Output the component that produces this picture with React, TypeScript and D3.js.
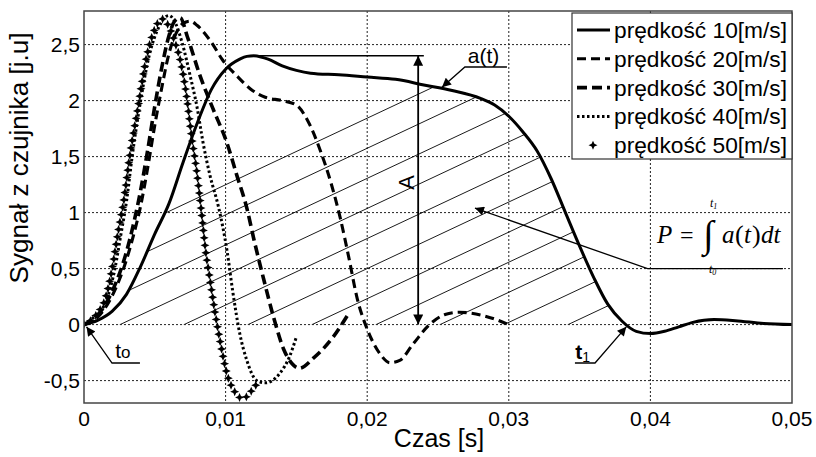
import React, { useEffect, useRef, useState } from "react";
import * as d3 from "d3";

type P = [number, number];

// time [s], signal [j.u]
const speed10: P[] = [
  [0, 0], [0.001, 0.04], [0.002, 0.12], [0.003, 0.27], [0.004, 0.52], [0.005, 0.81], [0.006, 1.08],
  [0.007, 1.45], [0.008, 1.8], [0.009, 2.1], [0.01, 2.28], [0.011, 2.37], [0.0115, 2.395], [0.012, 2.4],
  [0.0125, 2.39], [0.013, 2.37], [0.014, 2.31], [0.015, 2.27], [0.016, 2.245], [0.018, 2.23], [0.02, 2.21],
  [0.022, 2.19], [0.024, 2.14], [0.026, 2.09], [0.028, 2.02], [0.029, 1.96], [0.03, 1.86], [0.031, 1.72],
  [0.032, 1.55], [0.033, 1.3], [0.034, 1.0], [0.035, 0.7], [0.036, 0.42], [0.037, 0.18], [0.038, 0.03],
  [0.039, -0.06], [0.04, -0.08], [0.041, -0.06], [0.042, -0.02], [0.043, 0.02], [0.0445, 0.045],
  [0.046, 0.035], [0.048, 0.01], [0.05, 0],
];
const speed20: P[] = [
  [0, 0], [0.001, 0.07], [0.002, 0.26], [0.003, 0.58], [0.0035, 0.8], [0.004, 1.06], [0.0045, 1.4],
  [0.005, 1.78], [0.0055, 2.12], [0.006, 2.42], [0.0065, 2.6], [0.007, 2.69], [0.0075, 2.71],
  [0.008, 2.67], [0.009, 2.52], [0.0098, 2.36], [0.0108, 2.22], [0.0118, 2.1], [0.0128, 2.03],
  [0.014, 2.0], [0.015, 1.96], [0.0158, 1.82], [0.0167, 1.55], [0.0175, 1.24], [0.0181, 0.95],
  [0.0187, 0.6], [0.0193, 0.23], [0.02, -0.04], [0.0209, -0.26], [0.0216, -0.34], [0.0223, -0.32],
  [0.0232, -0.18], [0.0244, 0.0], [0.0255, 0.09], [0.0265, 0.11], [0.0282, 0.08], [0.03, 0],
];
const speed30: P[] = [
  [0, 0], [0.001, 0.09], [0.002, 0.3], [0.003, 0.65], [0.0035, 0.9], [0.004, 1.2], [0.0045, 1.56],
  [0.005, 1.95], [0.0055, 2.3], [0.006, 2.58], [0.0064, 2.71], [0.0068, 2.74], [0.0073, 2.57],
  [0.0082, 2.22], [0.0091, 1.93], [0.0101, 1.62], [0.0108, 1.33], [0.0115, 1.04], [0.012, 0.76],
  [0.0127, 0.4], [0.0134, 0.06], [0.0141, -0.22], [0.0147, -0.35], [0.0152, -0.39], [0.0162, -0.3],
  [0.0176, -0.11], [0.0186, 0.08],
];
const speed40: P[] = [
  [0, 0], [0.0008, 0.08], [0.0016, 0.22], [0.0022, 0.51], [0.0026, 0.8], [0.003, 1.1], [0.0034, 1.5],
  [0.004, 2.0], [0.0046, 2.4], [0.0053, 2.66], [0.006, 2.76], [0.0065, 2.68], [0.0069, 2.53], [0.0075, 2.22],
  [0.008, 1.93], [0.0084, 1.63], [0.0089, 1.33], [0.0095, 1.05], [0.0101, 0.66], [0.0105, 0.3],
  [0.011, -0.08], [0.0115, -0.32], [0.0122, -0.5], [0.0128, -0.52], [0.0138, -0.44], [0.0145, -0.29],
  [0.015, -0.11],
];
const speed50: P[] = [
  [0, 0], [0.0005, 0.04], [0.001, 0.11], [0.0015, 0.23], [0.002, 0.51], [0.0024, 0.82], [0.0028, 1.1],
  [0.0032, 1.48], [0.0038, 1.93], [0.0044, 2.38], [0.005, 2.64], [0.0055, 2.73], [0.006, 2.66],
  [0.0064, 2.53], [0.0068, 2.36], [0.0072, 2.08], [0.0076, 1.68], [0.008, 1.33], [0.0083, 1.0],
  [0.0086, 0.65], [0.0089, 0.4], [0.0092, 0.15], [0.0096, -0.14], [0.0101, -0.44], [0.0107, -0.61],
  [0.0112, -0.66], [0.0116, -0.63], [0.012, -0.56], [0.0123, -0.52],
];

const legendLabels = [
  "prędkość 10[m/s]",
  "prędkość 20[m/s]",
  "prędkość 30[m/s]",
  "prędkość 40[m/s]",
  "prędkość 50[m/s]",
];
const xTicks = [0, 0.01, 0.02, 0.03, 0.04, 0.05];
const yTicks = [-0.5, 0, 0.5, 1, 1.5, 2, 2.5];
const xTitle = "Czas [s]";
const yTitle = "Sygnał z czujnika [j.u]";

// annotation anchors (data units)
const tStart = 0;
const tEnd = 0.0383;
const amplitude = 2.4;
const ampT = 0.0236;

const fmt = (v: number) => String(v).replace(".", ",");
const SANS = "'Liberation Sans', Arial, sans-serif";
const SERIF = "'Liberation Serif', 'Times New Roman', serif";

const styles = [
  { dash: "none", w: 3 },
  { dash: "9 5", w: 3.1 },
  { dash: "10 5", w: 3.6 },
  { dash: "2.5 2.5", w: 3 },
];

const STAR = "M0,-4.5L1.4,-1.4L4.5,0L1.4,1.4L0,4.5L-1.4,1.4L-4.5,0L-1.4,-1.4Z";

export default function App() {
  const x = d3.scaleLinear().domain([0, 0.05]).range([84, 792]);
  const y = d3.scaleLinear().domain([-0.7, 2.8]).range([403, 11]);
  const line = d3
    .line<P>()
    .x((d) => x(d[0]))
    .y((d) => y(d[1]))
    .curve(d3.curveMonotoneX);
  const area = d3
    .area<P>()
    .x((d) => x(d[0]))
    .y0(y(0))
    .y1((d) => y(d[1]))
    .curve(d3.curveMonotoneX);

  const starRef = useRef<SVGPathElement>(null);
  const [stars, setStars] = useState<P[]>([]);
  useEffect(() => {
    const p = starRef.current;
    if (!p) return;
    const L = p.getTotalLength();
    const pts: P[] = [];
    for (let s = 0; s <= L; s += 7.5) {
      const q = p.getPointAtLength(s);
      pts.push([q.x, q.y]);
    }
    setStars(pts);
  }, []);

  const lines = [speed10, speed20, speed30, speed40];
  const [x0, x1] = x.range();
  const [yb, yt] = y.range();

  const slope = 0.47;
  const hatch = d3.range(-3, 14).map((k) => {
    const bx = x(0) + 36 + 64 * k;
    return { x1: bx - 150, y1: y(0) + slope * 150, x2: bx + 600, y2: y(0) - slope * 600 };
  });

  const legX = 572, legY = 13, legW = 220, legH = 146;
  const rowY = (i: number) => legY + 17 + i * 28.8;

  return (
    <div>
      <style>{`body{margin:0;background:#fff}`}</style>
      <svg width={816} height={457} style={{ display: "block", background: "#fff" }}>
        <defs>
          <marker id="arr" viewBox="0 0 10 10" refX="10" refY="5" markerWidth="14" markerHeight="9"
            markerUnits="userSpaceOnUse" orient="auto-start-reverse">
            <path d="M0,0L10,5L0,10Z" fill="#000" />
          </marker>
          <marker id="arrBig" viewBox="0 0 10 10" refX="10" refY="5" markerWidth="24" markerHeight="10"
            markerUnits="userSpaceOnUse" orient="auto-start-reverse">
            <path d="M0,0L10,5L0,10Z" fill="#000" />
          </marker>
          <clipPath id="hRect">
            <rect x={x(tStart)} y={yt} width={x(tEnd) - x(tStart)} height={y(0) - yt} />
          </clipPath>
          <clipPath id="hArea">
            <path d={area(speed10) || ""} />
          </clipPath>
          <clipPath id="plot">
            <rect x={x0} y={yt} width={x1 - x0} height={yb - yt} />
          </clipPath>
        </defs>

        {/* grid */}
        <g stroke="#222" strokeWidth={1} strokeDasharray="2 2">
          {xTicks.slice(1, -1).map((t) => (
            <line key={"gx" + t} x1={x(t)} x2={x(t)} y1={yt} y2={yb} />
          ))}
          {yTicks.map((v) => (
            <line key={"gy" + v} x1={x0} x2={x1} y1={y(v)} y2={y(v)} />
          ))}
        </g>

        {/* hatching */}
        <g clipPath="url(#hRect)">
          <g clipPath="url(#hArea)">
            {hatch.map((h, i) => (
              <line key={i} {...h} stroke="#000" strokeWidth={0.9} />
            ))}
          </g>
        </g>

        {/* curves */}
        <g clipPath="url(#plot)" fill="none" stroke="#000">
          {lines.map((s, i) => (
            <path key={i} d={line(s) || ""} strokeWidth={styles[i].w}
              strokeDasharray={styles[i].dash} strokeLinejoin="round" />
          ))}
          <path ref={starRef} d={line(speed50) || ""} stroke="none" />
          {stars.map((p, i) => (
            <path key={"s" + i} d={STAR} transform={`translate(${p[0]},${p[1]})`} fill="#000" stroke="none" />
          ))}
        </g>

        {/* amplitude A */}
        <line x1={x(0.0115)} x2={x(0.024)} y1={y(amplitude)} y2={y(amplitude)} stroke="#000" strokeWidth={1.5} />
        <line x1={x(ampT)} x2={x(ampT)} y1={y(amplitude)} y2={y(0)} stroke="#000" strokeWidth={1.8}
          markerStart="url(#arrBig)" markerEnd="url(#arrBig)" />
        <text transform={`translate(${x(ampT) - 4},${y(1.27)}) rotate(-90)`} textAnchor="middle"
          fontFamily={SANS} fontSize={22}>A</text>

        {/* a(t) */}
        <polyline points={`${x(0.02987)},${y(2.3)} ${x(0.0269)},${y(2.3)} ${x(0.02528)},${y(2.12)}`}
          fill="none" stroke="#000" strokeWidth={1.3} markerEnd="url(#arr)" />
        <text x={x(0.0271)} y={y(2.34)} fontFamily={SANS} fontSize={21}>a(t)</text>

        {/* P formula */}
        <polyline points={`${x(0.04936)},${y(0.5)} ${x(0.0398)},${y(0.5)} ${x(0.02761)},${y(1.04)}`}
          fill="none" stroke="#000" strokeWidth={1.3} markerEnd="url(#arr)" />
        <g fontFamily={SERIF} fill="#000">
          <text x={657} y={243} fontSize={25} fontStyle="italic">P</text>
          <text x={680} y={243} fontSize={24}>=</text>
          <text x={703} y={247} fontSize={38}>∫</text>
          <text x={722} y={243} fontSize={25} fontStyle="italic">a</text>
          <text x={735} y={243} fontSize={26}>(</text>
          <text x={744} y={243} fontSize={25} fontStyle="italic">t</text>
          <text x={752} y={243} fontSize={26}>)</text>
          <text x={761} y={243} fontSize={25} fontStyle="italic">dt</text>
          <text x={710} y={207} fontSize={12} fontStyle="italic">t<tspan fontSize={8} dy={2}>1</tspan></text>
          <text x={709} y={273} fontSize={12} fontStyle="italic">t<tspan fontSize={8} dy={2}>0</tspan></text>
        </g>

        {/* t0 */}
        <polyline points={`${x(0.00395)},${y(-0.343)} ${x(0.00198)},${y(-0.343)} ${x(0.00018)},${y(-0.02)}`}
          fill="none" stroke="#000" strokeWidth={1.3} markerEnd="url(#arr)" />
        <text x={x(0.0022)} y={y(-0.3)} fontFamily={SANS} fontSize={21}>t<tspan fontSize={17}>o</tspan></text>

        {/* t1 */}
        <polyline points={`${x(0.03467)},${y(-0.343)} ${x(0.03609)},${y(-0.343)} ${x(tEnd)},${y(-0.02)}`}
          fill="none" stroke="#000" strokeWidth={1.3} markerEnd="url(#arr)" />
        <text x={x(0.0347)} y={y(-0.31)} fontFamily={SANS} fontSize={21} fontWeight="bold">t<tspan fontSize={14} dy={3} fontWeight="normal">1</tspan></text>

        {/* frame */}
        <rect x={x0} y={yt} width={x1 - x0} height={yb - yt} fill="none" stroke="#444" strokeWidth={1.5} />

        {/* legend */}
        <rect x={legX} y={legY} width={legW} height={legH} fill="#fff" stroke="#333" strokeWidth={1.2} />
        {legendLabels.map((lab, i) => (
          <g key={lab}>
            {i < 4 ? (
              <line x1={legX + 5} x2={legX + 38} y1={rowY(i)} y2={rowY(i)} stroke="#000"
                strokeWidth={styles[i].w} strokeDasharray={styles[i].dash} />
            ) : (
              <path d={STAR} transform={`translate(${legX + 21},${rowY(i)})`} fill="#000" />
            )}
            <text x={legX + 42} y={rowY(i) + 8} fontFamily={SANS} fontSize={22}
              textLength={173} lengthAdjust="spacingAndGlyphs">{lab}</text>
          </g>
        ))}

        {/* axes labels */}
        <g fontFamily={SANS} fontSize={21} fill="#000">
          {xTicks.map((t) => (
            <text key={"xt" + t} x={x(t)} y={426} textAnchor="middle">{fmt(t)}</text>
          ))}
          {yTicks.map((v) => (
            <text key={"yt" + v} x={x0 - 4} y={y(v) + 7.5} textAnchor="end">{fmt(v)}</text>
          ))}
        </g>
        <text x={439} y={447} textAnchor="middle" fontFamily={SANS} fontSize={25}>{xTitle}</text>
        <text transform="translate(28,158) rotate(-90)" textAnchor="middle" fontFamily={SANS}
          fontSize={25} textLength={251} lengthAdjust="spacingAndGlyphs">{yTitle}</text>
      </svg>
    </div>
  );
}
